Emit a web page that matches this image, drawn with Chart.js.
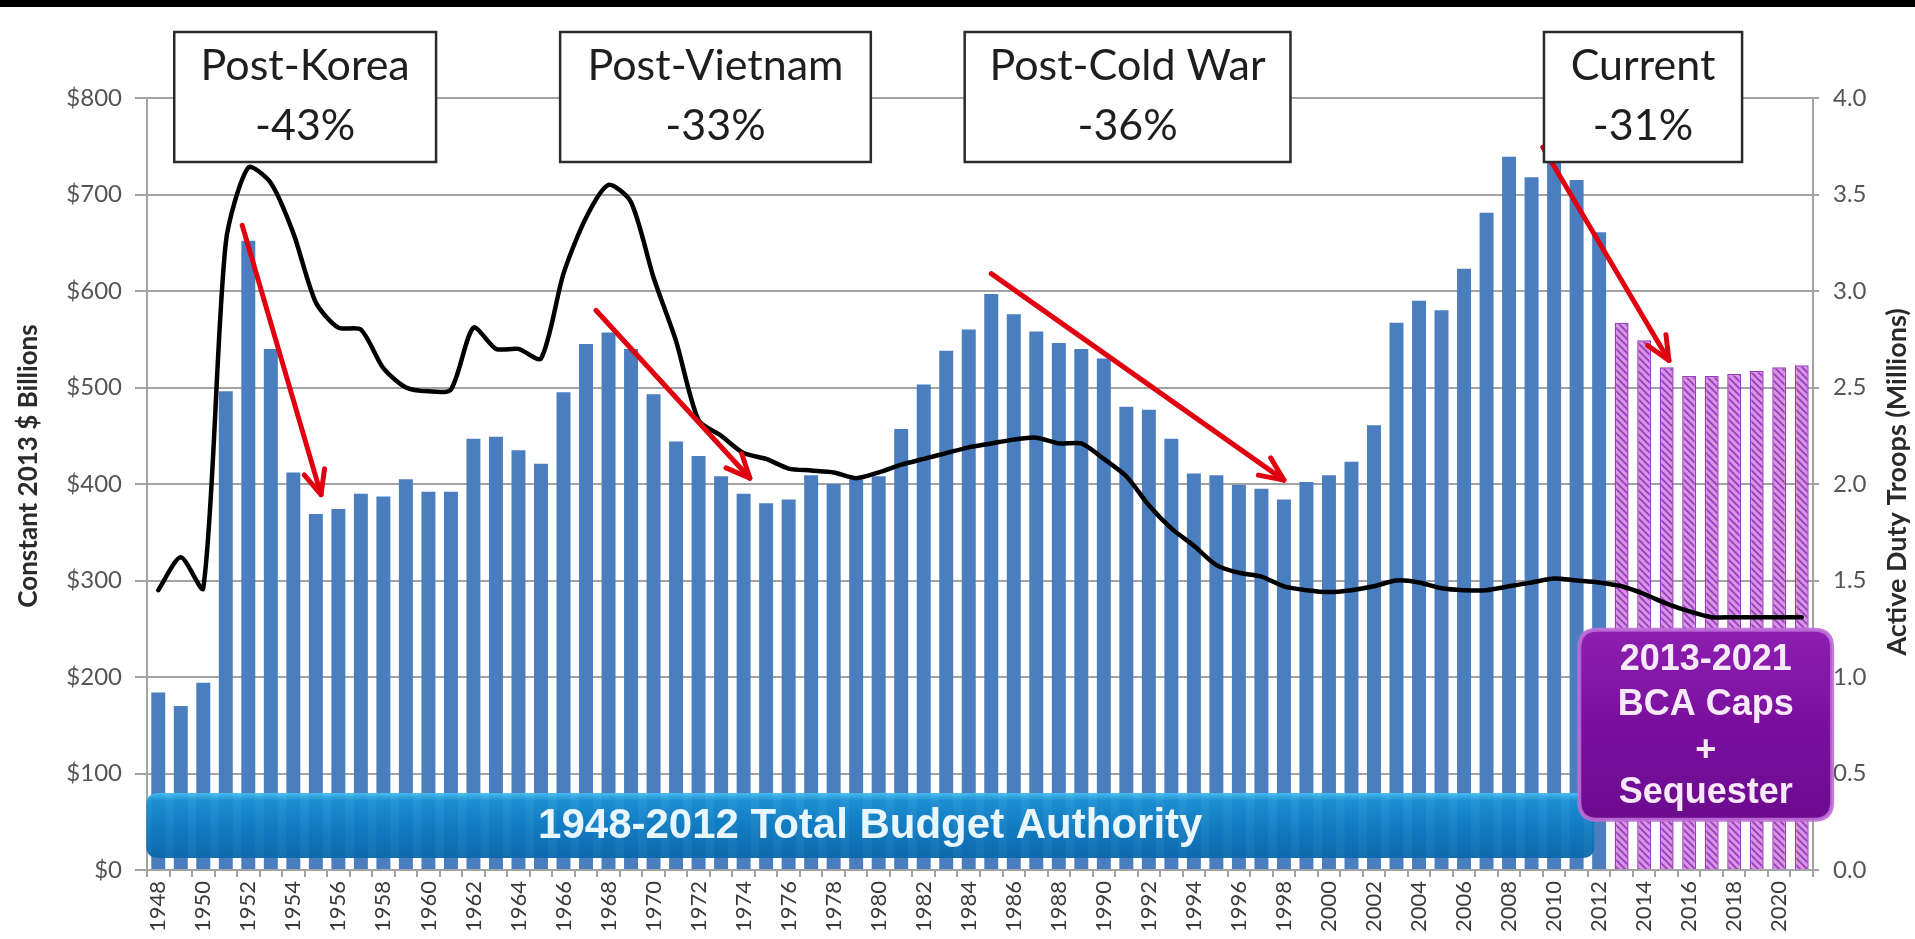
<!DOCTYPE html>
<html>
<head>
<meta charset="utf-8">
<script src="https://cdn.jsdelivr.net/npm/chart.js@4.4.1/dist/chart.umd.min.js"></script>
<style>
html,body{margin:0;padding:0;background:#fff;overflow:hidden}
#wrap{width:1915px;height:939px;position:relative}
canvas{display:block}
</style>
</head>
<body>
<div id="wrap"><canvas id="c" width="1915" height="939"></canvas></div>
<script>
// ---------- DATA ----------
const years = ['1948','1949','1950','1951','1952','1953','1954','1955','1956','1957',
  '1958','1959','1960','1961','1962','1963','1964','1965','1966','1967',
  '1968','1969','1970','1971','1972','1973','1974','1975','1976','1977',
  '1978','1979','1980','1981','1982','1983','1984','1985','1986','1987',
  '1988','1989','1990','1991','1992','1993','1994','1995','1996','1997',
  '1998','1999','2000','2001','2002','2003','2004','2005','2006','2007',
  '2008','2009','2010','2011','2012','2013','2014','2015','2016','2017',
  '2018','2019','2020','2021'];

// Total budget authority, constant 2013 $ billions
const budget = [184,170,194,496,652,540,412,369,374,390,
  387,405,392,392,447,449,435,421,495,545,
  557,540,493,444,429,408,390,380,384,409,
  400,405,408,457,503,538,560,597,576,558,
  546,540,530,480,477,447,411,409,399,395,
  384,402,409,423,461,567,590,580,623,681,
  739,718,736,715,661,567,549,521,512,512,
  514,517,521,523];

// Active duty troops, millions
const troops = [1.45,1.62,1.46,3.25,3.64,3.56,3.30,2.94,2.81,2.80,
  2.60,2.50,2.48,2.49,2.81,2.70,2.70,2.65,3.09,3.38,
  3.55,3.46,3.07,2.74,2.33,2.25,2.16,2.13,2.08,2.07,
  2.06,2.03,2.06,2.10,2.13,2.16,2.19,2.21,2.23,2.24,
  2.21,2.21,2.13,2.04,1.89,1.77,1.68,1.58,1.54,1.52,
  1.47,1.45,1.44,1.45,1.47,1.50,1.49,1.46,1.45,1.45,
  1.47,1.49,1.51,1.50,1.49,1.47,1.43,1.38,1.34,1.31,
  1.31,1.31,1.31,1.31];

const projectionYears = ['2013','2014','2015','2016','2017','2018','2019','2020','2021'];

const xTickLabels = ['1948','1950','1952','1954','1956','1958','1960','1962','1964','1966',
  '1968','1970','1972','1974','1976','1978','1980','1982','1984','1986','1988','1990',
  '1992','1994','1996','1998','2000','2002','2004','2006','2008','2010','2012','2014',
  '2016','2018','2020'];

const leftTitle = 'Constant 2013 $ Billions';
const rightTitle = 'Active Duty Troops (Millions)';

const periodLabels = [['Post-Korea','-43%'],['Post-Vietnam','-33%'],['Post-Cold War','-36%'],['Current','-31%']];
const bannerText = '1948-2012 Total Budget Authority';
const capsText = ['2013-2021','BCA Caps','+','Sequester'];

// ---------- ANNOTATION GEOMETRY (category-index / value units) ----------
const boxSpans = [[0.71,12.34],[17.85,31.65],[35.82,50.29],[61.55,70.35]];
const arrowSpecs = [
  [3.73,668, 7.23,389],
  [19.44,580, 26.28,406],
  [37.0,618, 50.0,404],
  [61.5,749, 67.1,528]
];
const bannerSpan = {x0:-0.53, x1:63.78, v0:79.8, v1:12.4};
const capsSpan = {x0:63.12, x1:74.35, v0:249, v1:52};

// ---------- STYLES ----------
const canvas = document.getElementById('c');
const ctx = canvas.getContext('2d');

function makeHatch(){
  const s = 7;
  const c = document.createElement('canvas'); c.width = s; c.height = s;
  const g = c.getContext('2d');
  g.fillStyle = '#d694e4'; g.fillRect(0,0,s,s);
  g.strokeStyle = '#9c3cbd'; g.lineWidth = 1.7;
  g.beginPath();
  g.moveTo(0,0); g.lineTo(s,s);
  g.moveTo(-s,0); g.lineTo(s,2*s);
  g.moveTo(0,-s); g.lineTo(2*s,s);
  g.stroke();
  return ctx.createPattern(c,'repeat');
}
const hatch = makeHatch();
const barColors = years.map(y => projectionYears.includes(y) ? hatch : '#4a7ebf');
const barBorders = years.map(y => projectionYears.includes(y) ? '#9c3cbd' : '#4a7ebf');
const barBorderW = years.map(y => projectionYears.includes(y) ? 1.5 : 0);

const GRID = '#a3a3a3';

function roundRect(c, x, y, w, h, r){
  c.beginPath();
  c.moveTo(x+r, y);
  c.lineTo(x+w-r, y); c.quadraticCurveTo(x+w, y, x+w, y+r);
  c.lineTo(x+w, y+h-r); c.quadraticCurveTo(x+w, y+h, x+w-r, y+h);
  c.lineTo(x+r, y+h); c.quadraticCurveTo(x, y+h, x, y+h-r);
  c.lineTo(x, y+r); c.quadraticCurveTo(x, y, x+r, y);
  c.closePath();
}

const decor = {
  id:'decor',
  beforeDraw(chart){
    const c = chart.ctx;
    c.save();
    c.fillStyle = '#fff'; c.fillRect(0,0,chart.width,chart.height);
    c.fillStyle = '#000'; c.fillRect(0,0,chart.width,7);
    c.restore();
  },
  afterDatasetsDraw(chart){
    const c = chart.ctx;
    const xs = chart.scales.x, ys = chart.scales.y;
    const x0 = xs.getPixelForValue(0), dx = xs.getPixelForValue(1) - x0;
    const X = i => x0 + i*dx;
    const Y = v => ys.getPixelForValue(v);
    c.save();

    // Blue banner
    {
      const bx = X(bannerSpan.x0), bw = X(bannerSpan.x1) - bx;
      const by = Y(bannerSpan.v0), bh = Y(bannerSpan.v1) - by;
      const gr = c.createLinearGradient(0, by, 0, by+bh);
      gr.addColorStop(0, '#45bdf0');
      gr.addColorStop(0.12, '#1a8fd2');
      gr.addColorStop(0.5, '#0f7bc2');
      gr.addColorStop(1, '#0a68ab');
      c.globalAlpha = 0.95;
      roundRect(c, bx, by, bw, bh, 12);
      c.fillStyle = gr; c.fill();
      c.globalAlpha = 1;
      c.fillStyle = '#e8f6fd';
      c.font = 'bold 42px "Liberation Sans", Arial, sans-serif';
      c.textAlign = 'center'; c.textBaseline = 'middle';
      c.fillText(bannerText, bx + bw/2, by + bh/2 + 1);
    }

    // Purple box
    {
      const px = X(capsSpan.x0), pw = X(capsSpan.x1) - px;
      const py = Y(capsSpan.v0), ph = Y(capsSpan.v1) - py;
      const gr = c.createLinearGradient(0, py, 0, py+ph);
      gr.addColorStop(0, '#8d1fb0');
      gr.addColorStop(0.5, '#7a0f9e');
      gr.addColorStop(1, '#6c0b8e');
      roundRect(c, px, py, pw, ph, 18);
      c.fillStyle = gr; c.fill();
      c.lineWidth = 4; c.strokeStyle = 'rgba(190,110,215,0.9)'; c.stroke();
      c.fillStyle = '#f7e8fa';
      c.font = 'bold 36px "Liberation Sans", Arial, sans-serif';
      c.textAlign = 'center'; c.textBaseline = 'middle';
      const fr = [0.16, 0.395, 0.64, 0.86];
      capsText.forEach((t,k) => c.fillText(t, px + pw/2, py + ph*fr[k]));
    }

    // Red arrows
    c.strokeStyle = '#e0000f';
    c.lineWidth = 5; c.lineCap = 'round'; c.lineJoin = 'round';
    arrowSpecs.forEach(a => {
      const sx = X(a[0]), sy = Y(a[1]), ex = X(a[2]), ey = Y(a[3]);
      const ang = Math.atan2(ey - sy, ex - sx);
      c.beginPath(); c.moveTo(sx, sy); c.lineTo(ex, ey); c.stroke();
      const L = 26, w = 0.42;
      c.beginPath();
      c.moveTo(ex - L*Math.cos(ang - w), ey - L*Math.sin(ang - w));
      c.lineTo(ex, ey);
      c.lineTo(ex - L*Math.cos(ang + w), ey - L*Math.sin(ang + w));
      c.stroke();
    });

    // Period boxes
    const yMid = Y(800);
    c.lineCap = 'butt'; c.lineJoin = 'miter';
    boxSpans.forEach((s,k) => {
      const bx = X(s[0]), bw = X(s[1]) - bx;
      const by = yMid - 66, bh = 130;
      c.fillStyle = '#fff'; c.fillRect(bx, by, bw, bh);
      c.lineWidth = 2.5; c.strokeStyle = '#2b2b2b'; c.strokeRect(bx, by, bw, bh);
      c.fillStyle = '#1e1e1e';
      c.font = '43px Lato, "Open Sans", sans-serif';
      c.textAlign = 'center'; c.textBaseline = 'middle';
      c.fillText(periodLabels[k][0], bx + bw/2, yMid - 32);
      c.fillText(periodLabels[k][1], bx + bw/2, yMid + 28);
    });
    c.restore();
  },
  afterDraw(chart){
    const c = chart.ctx;
    c.save();
    c.fillStyle = '#2a2a2a';
    c.font = 'bold 26px Lato, "Open Sans", sans-serif';
    c.textAlign = 'center'; c.textBaseline = 'middle';
    c.translate(29, 466);
    c.rotate(-Math.PI/2);
    c.fillText(leftTitle, 0, 0);
    c.restore();
    c.save();
    c.fillStyle = '#2a2a2a';
    c.font = 'bold 27px Lato, "Open Sans", sans-serif';
    c.textAlign = 'center'; c.textBaseline = 'middle';
    c.translate(1897, 482);
    c.rotate(-Math.PI/2);
    c.fillText(rightTitle, 0, 0);
    c.restore();
  }
};

new Chart(ctx, {
  data: {
    labels: years,
    datasets: [
      {type:'line', label:'Active Duty Troops', data: troops, yAxisID:'y1',
       borderColor:'#000', borderWidth:4.5, pointRadius:0, tension:0.25, order:1,
       borderJoinStyle:'round', borderCapStyle:'round'},
      {type:'bar', label:'Total Budget Authority', data: budget, yAxisID:'y',
       backgroundColor: barColors, borderColor: barBorders, borderWidth: barBorderW,
       barPercentage:0.62, categoryPercentage:1.0, order:2}
    ]
  },
  options: {
    responsive:false, animation:false, devicePixelRatio:1,
    layout:{padding:{top:98, left:0, right:0, bottom:0}},
    plugins:{legend:{display:false}, tooltip:{enabled:false}, title:{display:false}},
    scales:{
      x:{
        offset:true,
        grid:{offset:true, drawOnChartArea:false, drawTicks:true, tickLength:7, color:GRID, lineWidth:2},
        border:{display:true, color:GRID, width:2},
        ticks:{autoSkip:false, maxRotation:90, minRotation:90, padding:4,
          font:{family:'Lato', size:22}, color:'#3a3a3a',
          callback:function(v,i){ return xTickLabels.includes(years[i]) ? years[i] : ''; }},
        afterFit:function(s){ s.height = 69; }
      },
      y:{
        position:'left', min:0, max:800,
        grid:{color:GRID, lineWidth:2, tickLength:12, drawTicks:true},
        border:{display:true, color:GRID, width:2},
        ticks:{stepSize:100, padding:13, font:{family:'Lato', size:24}, color:'#555',
          callback:function(v){ return '$' + v; }},
        afterFit:function(s){ s.width = 147; }
      },
      y1:{
        position:'right', min:0, max:4,
        grid:{drawOnChartArea:false, drawTicks:true, tickLength:6, color:GRID, lineWidth:2},
        border:{display:true, color:GRID, width:2},
        ticks:{stepSize:0.5, padding:14, font:{family:'Lato', size:24}, color:'#555',
          callback:function(v){ return Number(v).toFixed(1); }},
        afterFit:function(s){ s.width = 102; }
      }
    }
  },
  plugins:[decor]
});
</script>
</body>
</html>
